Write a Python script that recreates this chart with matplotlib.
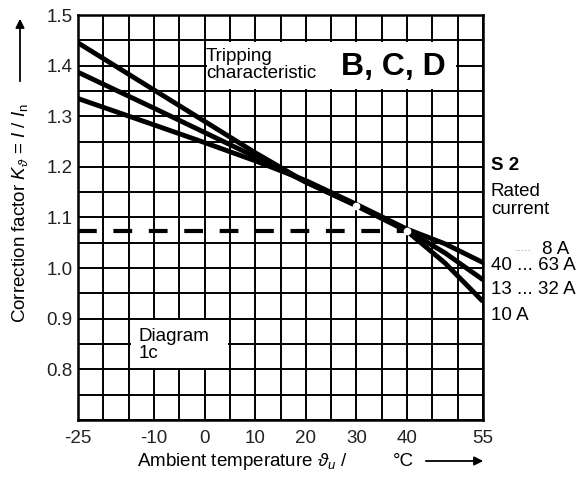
import matplotlib
matplotlib.use("Agg")
import matplotlib.pyplot as plt
import numpy as np

plt.rcParams['font.family'] = ['Liberation Sans', 'DejaVu Sans']
plt.rcParams['mathtext.fontset'] = 'custom'
plt.rcParams['mathtext.rm'] = 'Liberation Sans'
plt.rcParams['mathtext.it'] = 'Liberation Sans:italic'
plt.rcParams['axes.unicode_minus'] = False

# Data
temperature = [-25, -10, 0, 10, 20, 30, 40, 47.5, 55]
k_line_a = [1.445, 1.352, 1.290, 1.228, 1.170, 1.123, 1.073, 1.010, 0.934]
k_line_b = [1.387, 1.316, 1.268, 1.220, 1.170, 1.124, 1.075, 1.030, 0.977]
k_line_c = [1.335, 1.283, 1.248, 1.212, 1.173, 1.126, 1.077, 1.048, 1.011]
dashed_level = 1.073
dashed_range = [-25, 40]
marker_temps = [30, 40]
marker_vals = [1.123, 1.073]
x_ticks = [-25, -10, 0, 10, 20, 30, 40, 55]
y_ticks = [0.8, 0.9, 1.0, 1.1, 1.2, 1.3, 1.4, 1.5]
rated_labels = ["8 A", "40 ... 63 A", "13 ... 32 A", "10 A"]

W, H = 586, 478
FS = 13.5
fig = plt.figure(figsize=(W/100, H/100), dpi=100)
L, R, T, B = 78, 483, 15, 420
ax = fig.add_axes([L/W, 1-B/H, (R-L)/W, (B-T)/H])
ax.set_xlim(-25, 55)
ax.set_ylim(0.7, 1.5)

# grid
for gx in np.arange(-25, 55.1, 5):
    ax.axvline(gx, color='black', lw=1.4, zorder=1)
for gy in np.arange(0.7, 1.501, 0.05):
    ax.axhline(gy, color='black', lw=1.4, zorder=1)

# white text boxes covering grid (data coords)
ax.add_patch(plt.Rectangle((0.4, 1.354), 49.2, 0.092,
                           facecolor='white', edgecolor='none', zorder=2))
ax.add_patch(plt.Rectangle((-14.6, 0.803), 19.2, 0.094,
                           facecolor='white', edgecolor='none', zorder=2))

ax.plot(dashed_range, [dashed_level, dashed_level], color='black', lw=3,
        dashes=(4.5, 4), zorder=3)
for k in (k_line_a, k_line_b, k_line_c):
    ax.plot(temperature, k, color='black', lw=3.5, zorder=4, solid_capstyle='butt')
ax.plot(marker_temps, marker_vals, 'o', ms=4.5, mfc='white', mec='white', zorder=5)

ax.set_xticks(x_ticks)
ax.set_xticklabels([str(t) for t in x_ticks], fontsize=FS)
ax.set_yticks(y_ticks)
ax.set_yticklabels([f"{v:.1f}" for v in y_ticks], fontsize=FS)
ax.tick_params(axis='x', length=0, pad=7, colors='#222222')
ax.tick_params(axis='y', length=0, pad=4, colors='#222222')
for s in ax.spines.values():
    s.set_linewidth(1.8)

def fx(px):
    return px / W

def fy(py):
    return 1 - py / H

fig.text(fx(206), fy(65), "Tripping\ncharacteristic", fontsize=FS, ha='left',
         va='center', linespacing=0.95, zorder=6)
fig.text(fx(341), fy(67), "B, C, D", fontsize=23, fontweight='bold', ha='left',
         va='center')
fig.text(fx(139), fy(345), "Diagram\n1c", fontsize=FS, ha='left', va='center',
         linespacing=0.95)

fig.text(fx(491), fy(165), "S 2", fontsize=FS, fontweight='bold', ha='left', va='center')
fig.text(fx(491), fy(191), "Rated", fontsize=FS, ha='left', va='center')
fig.text(fx(491), fy(209), "current", fontsize=FS, ha='left', va='center')
fig.text(fx(515), fy(248), ".....", fontsize=9, color='#999999', ha='left', va='center')
label_y = [249, 266, 290, 316]
label_x = [542, 491, 491, 491]
for lbl, px, py in zip(rated_labels, label_x, label_y):
    fig.text(fx(px), fy(py), lbl, fontsize=FS, ha='left', va='center')

fig.text(fx(20), fy(213), r"Correction factor $K_\vartheta$ = $I$ / $I_\mathrm{n}$",
         rotation=90, fontsize=FS, ha='center', va='center')
fig.add_artist(matplotlib.patches.FancyArrowPatch((fx(20), fy(84)), (fx(20), fy(16)),
               transform=fig.transFigure, arrowstyle='-|>', mutation_scale=13,
               color='black', lw=1.3))

fig.text(fx(137), fy(461), r"Ambient temperature $\vartheta_u$ /", fontsize=FS,
         ha='left', va='center')
fig.text(fx(393), fy(461), "°C", fontsize=FS, ha='left', va='center')
fig.add_artist(matplotlib.patches.FancyArrowPatch((fx(423), fy(461)), (fx(486), fy(461)),
               transform=fig.transFigure, arrowstyle='-|>', mutation_scale=13,
               color='black', lw=1.3))

fig.savefig("out.png", dpi=100, facecolor='white')
